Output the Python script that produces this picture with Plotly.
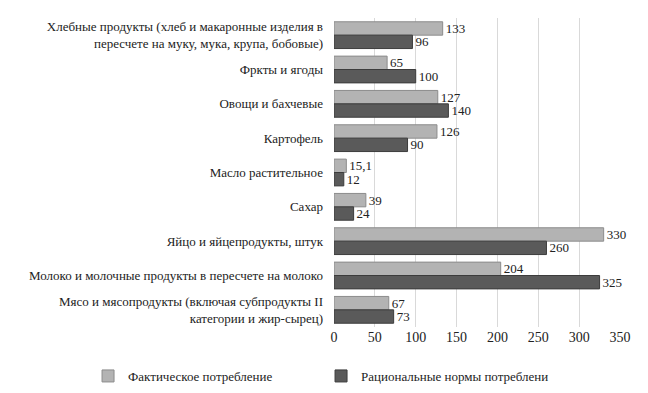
import plotly.graph_objects as go

categories = [
    "Хлебные продукты (хлеб и макаронные изделия в<br>пересчете на муку, мука, крупа, бобовые)",
    "Фркты и ягоды",
    "Овощи и бахчевые",
    "Картофель",
    "Масло растительное",
    "Сахар",
    "Яйцо и яйцепродукты, штук",
    "Молоко и молочные продукты в пересчете на молоко",
    "Мясо и мясопродукты (включая субпродукты II<br>категории и жир-сырец)",
]
actual = [133, 65, 127, 126, 15.1, 39, 330, 204, 67]
rational = [96, 100, 140, 90, 12, 24, 260, 325, 73]
x_ticks = [0, 50, 100, 150, 200, 250, 300, 350]

font_family = "Liberation Serif, Times New Roman, serif"

fig = go.Figure()

fig.add_trace(go.Bar(
    y=categories, x=actual, orientation="h",
    name="Фактическое потребление",
    marker=dict(color="#b3b3b3", line=dict(color="#8c8c8c", width=1)),
    text=actual, texttemplate="%{x}", textposition="outside", constraintext="none",
    textfont=dict(family=font_family, size=13, color="#222222"), cliponaxis=False,
))
fig.add_trace(go.Bar(
    y=categories, x=rational, orientation="h",
    name="Рациональные нормы потреблени",
    marker=dict(color="#5a5a5a", line=dict(color="#3c3c3c", width=1)),
    text=rational, texttemplate="%{x}", textposition="outside", constraintext="none",
    textfont=dict(family=font_family, size=13, color="#222222"), cliponaxis=False,
))

fig.update_layout(
    width=648, height=393,
    margin=dict(l=326, r=36, t=10, b=62),
    barmode="group", bargap=0.22, bargroupgap=0.0,
    separators=", ",
    plot_bgcolor="white", paper_bgcolor="white",
    font=dict(family=font_family, size=13, color="#222222"),
    legend=dict(orientation="h", x=-0.86, xanchor="left", y=-0.11, yanchor="top",
                font=dict(family=font_family, size=13), traceorder="normal",
                itemwidth=30, entrywidth=188),
    showlegend=True,
)
fig.update_xaxes(range=[0, 350], tickvals=x_ticks, showgrid=True, gridcolor="#d9d9d9",
                 zeroline=False, showline=False, ticks="", tickfont=dict(size=14))
fig.update_yaxes(autorange="reversed", showgrid=False, ticks="", ticklabelstandoff=10,
                 tickfont=dict(size=13))

fig.write_html("out.html")
